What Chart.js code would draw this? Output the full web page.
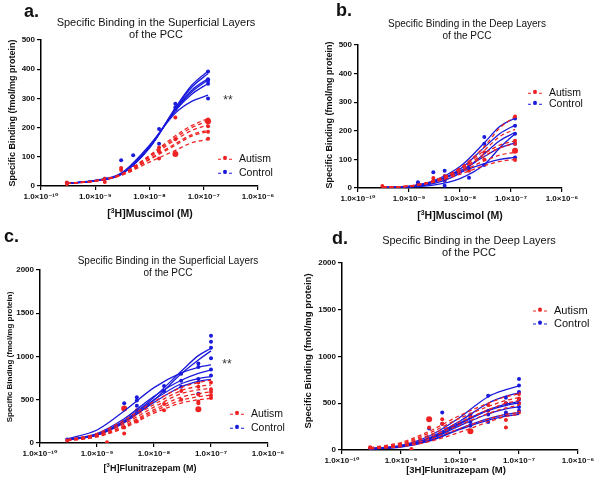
<!DOCTYPE html>
<html>
<head>
<meta charset="utf-8">
<script src="https://cdn.jsdelivr.net/npm/chart.js@4.4.1/dist/chart.umd.min.js"></script>
<style>
    html, body { margin: 0; padding: 0; background: #fff; }
    #page { position: relative; width: 600px; height: 483px; overflow: hidden;
        font-family: "Liberation Sans", Arial, sans-serif; color: #111; }
    canvas { position: absolute; }
    .t { position: absolute; white-space: nowrap; line-height: 1; transform: translate(-50%, -50%); z-index: 2; }
    .rot { transform: translate(-50%, -50%) rotate(-90deg); }
    .b { font-weight: bold; }
    .let { position: absolute; font-weight: bold; font-size: 18px; line-height: 1; z-index: 2; }
    .lg { position: absolute; white-space: nowrap; line-height: 1; z-index: 2; font-size: 10.5px; transform: translateY(-50%); }
    .sw { display: inline-block; position: relative; width: 14px; height: 0; border-top: 1.5px dashed currentColor;
        vertical-align: middle; margin-right: 7px; }
    .sw::after { content: ''; position: absolute; left: 5px; top: -3.5px; width: 4px; height: 4px;
        border-radius: 50%; background: currentColor; }
    .lg span.txt { color: #111; }
    sup { font-size: 65%; vertical-align: 0.55em; line-height: 0; }
</style>
</head>
<body>
<div id="page">
    <canvas id="chartA" width="300" height="205" style="left:0;top:0"></canvas>
    <canvas id="chartB" width="300" height="207" style="left:300px;top:0"></canvas>
    <canvas id="chartC" width="300" height="222" style="left:0;top:240px"></canvas>
    <canvas id="chartD" width="300" height="229" style="left:300px;top:240px"></canvas>

    <!-- panel letters -->
    <div class="let" style="left:24px;top:2px">a.</div>
    <div class="let" style="left:336px;top:1px">b.</div>
    <div class="let" style="left:4px;top:227px">c.</div>
    <div class="let" style="left:332px;top:229px">d.</div>

    <!-- titles -->
    <div class="t" style="left:156px;top:22px;font-size:11px">Specific Binding in the Superficial Layers</div>
    <div class="t" style="left:156px;top:34px;font-size:11px">of the PCC</div>
    <div class="t" style="left:467px;top:24px;font-size:10px">Specific Binding in the Deep Layers</div>
    <div class="t" style="left:467px;top:36px;font-size:10px">of the PCC</div>
    <div class="t" style="left:168px;top:261px;font-size:10px">Specific Binding in the Superficial Layers</div>
    <div class="t" style="left:168px;top:273px;font-size:10px">of the PCC</div>
    <div class="t" style="left:469px;top:240px;font-size:11px">Specific Binding in the Deep Layers</div>
    <div class="t" style="left:469px;top:252px;font-size:11px">of the PCC</div>

    <!-- y-axis titles -->
    <div class="t rot b" style="left:12px;top:113px;font-size:9px">Specific Binding (fmol/mg protein)</div>
    <div class="t rot b" style="left:329px;top:115px;font-size:9px">Specific Binding (fmol/mg protein)</div>
    <div class="t rot b" style="left:10px;top:357px;font-size:8px">Specific Binding (fmol/mg protein)</div>
    <div class="t rot b" style="left:308px;top:351px;font-size:9.5px">Specific Binding (fmol/mg protein)</div>

    <!-- x-axis titles -->
    <div class="t b" style="left:150px;top:213px;font-size:10.5px">[<sup>3</sup>H]Muscimol (M)</div>
    <div class="t b" style="left:460px;top:215px;font-size:10.5px">[<sup>3</sup>H]Muscimol (M)</div>
    <div class="t b" style="left:150px;top:468px;font-size:9px">[<sup>3</sup>H]Flunitrazepam (M)</div>
    <div class="t b" style="left:456px;top:470px;font-size:9.5px">[3H]Flunitrazepam (M)</div>

    <!-- significance -->
    <div class="t" style="left:228px;top:100px;font-size:12px;color:#333">**</div>
    <div class="t" style="left:227px;top:364px;font-size:12px;color:#333">**</div>

    <!-- legends -->
    <div class="lg" style="left:218px;top:158px;color:#ee2222"><span class="sw"></span><span class="txt">Autism</span></div>
    <div class="lg" style="left:218px;top:172px;color:#1a1adc"><span class="sw"></span><span class="txt">Control</span></div>
    <div class="lg" style="left:528px;top:92px;color:#ee2222"><span class="sw"></span><span class="txt">Autism</span></div>
    <div class="lg" style="left:528px;top:103px;color:#1a1adc"><span class="sw"></span><span class="txt">Control</span></div>
    <div class="lg" style="left:230px;top:413px;color:#ee2222"><span class="sw"></span><span class="txt">Autism</span></div>
    <div class="lg" style="left:230px;top:427px;color:#1a1adc"><span class="sw"></span><span class="txt">Control</span></div>
    <div class="lg" style="left:533px;top:310px;color:#ee2222;font-size:11px"><span class="sw"></span><span class="txt">Autism</span></div>
    <div class="lg" style="left:533px;top:323px;color:#1a1adc;font-size:11px"><span class="sw"></span><span class="txt">Control</span></div>
</div>

<script>
// ===== DỮ LIỆU =====
const tickExp = [-10, -9, -8, -7, -6];

// a. Muscimol - superficial layers
const aConc = [3e-10, 1e-9, 3e-9, 1e-8, 3e-8, 6e-8, 1.2e-7];
const aCtrl = [
    [9, 18, 40, 132, 268, 345, 394],
    [9, 18, 40, 130, 265, 338, 385],
    [9, 18, 41, 132, 262, 328, 368],
    [9, 18, 41, 134, 260, 322, 363],
    [9, 19, 42, 136, 258, 314, 351],
    [9, 19, 44, 140, 250, 290, 311]
];
const aAut = [
    [9, 18, 40, 105, 172, 207, 231],
    [9, 18, 40, 102, 165, 200, 223],
    [9, 18, 39, 98, 158, 190, 209],
    [9, 17, 38, 92, 145, 176, 191],
    [9, 17, 37, 90, 140, 171, 186],
    [8, 17, 36, 82, 122, 148, 160]
];
const aCtrlPts = [[3e-10, 10], [1.5e-9, 25], [3e-9, 88], [5e-9, 105], [1.5e-8, 195], [1.5e-8, 145],
    [3e-8, 282], [3e-8, 270], [3e-8, 262], [1.2e-7, 392], [1.2e-7, 366], [1.2e-7, 360], [1.2e-7, 350], [1.2e-7, 300]];
const aAutPts = [[3e-10, 12], [3e-10, 7], [1.5e-9, 14], [1.5e-9, 25], [3e-9, 55], [3e-9, 62], [5e-9, 72],
    [1.5e-8, 94], [1.5e-8, 118], [1.5e-8, 132], [3e-8, 160], [3e-8, 235],
    [1.2e-7, 228], [1.2e-7, 220], [1.2e-7, 205], [1.2e-7, 186], [1.2e-7, 162]];
const aAutBig = [[3e-8, 110], [1.2e-7, 222]];

// b. Muscimol - deep layers
const bConc = [3e-10, 1e-9, 3e-9, 1e-8, 3e-8, 6e-8, 1.2e-7];
const bCtrl = [
    [2, 6, 25, 75, 158, 215, 244],
    [2, 5, 20, 66, 142, 190, 220],
    [1, 4, 15, 52, 120, 165, 194],
    [2, 6, 22, 60, 110, 140, 158],
    [1, 3, 10, 33, 82, 140, 190],
    [2, 6, 22, 55, 85, 100, 107]
];
const bAut = [
    [3, 7, 25, 70, 145, 210, 250],
    [3, 7, 25, 68, 132, 180, 205],
    [3, 7, 24, 64, 120, 150, 165],
    [3, 7, 23, 60, 112, 140, 155],
    [3, 6, 22, 55, 95, 115, 125],
    [3, 6, 20, 48, 78, 93, 100]
];
const bCtrlPts = [[1.5e-9, 20], [1.5e-9, 12], [3e-9, 55], [3e-9, 22], [5e-9, 60], [5e-9, 25], [5e-9, 8],
    [1.5e-8, 70], [1.5e-8, 36], [3e-8, 178], [3e-8, 155], [3e-8, 80],
    [1.2e-7, 243], [1.2e-7, 218], [1.2e-7, 190], [1.2e-7, 155], [1.2e-7, 107]];
const bAutPts = [[3e-10, 7], [1.5e-9, 10], [3e-9, 35], [3e-9, 25], [5e-9, 42], [5e-9, 30],
    [1.5e-8, 60], [1.5e-8, 82], [3e-8, 125], [3e-8, 100],
    [1.2e-7, 250], [1.2e-7, 165], [1.2e-7, 155], [1.2e-7, 98]];
const bAutBig = [[1.2e-7, 130]];

// c. Flunitrazepam - superficial layers
const cConc = [3e-10, 1e-9, 3e-9, 1e-8, 3e-8, 6e-8, 1e-7];
const cCtrl = [
    [38, 100, 260, 530, 830, 1010, 1095],
    [35, 92, 235, 495, 800, 960, 1065],
    [48, 150, 370, 640, 810, 875, 902],
    [40, 110, 280, 540, 725, 805, 844],
    [36, 96, 250, 500, 685, 745, 767],
    [34, 90, 240, 470, 650, 712, 736]
];
const cAut = [
    [40, 110, 265, 480, 640, 700, 728],
    [35, 95, 240, 445, 605, 655, 670],
    [30, 85, 220, 415, 570, 615, 632],
    [30, 80, 200, 385, 530, 570, 593],
    [28, 75, 188, 365, 495, 535, 555],
    [25, 70, 175, 345, 462, 500, 517]
];
const cCtrlPts = [[3e-10, 40], [3e-9, 460], [3e-9, 400], [5e-9, 530], [5e-9, 490], [5e-9, 430],
    [1.5e-8, 660], [1.5e-8, 600], [3e-8, 800], [3e-8, 720], [3e-8, 650],
    [6e-8, 920], [6e-8, 880], [6e-8, 740], [6e-8, 570],
    [1e-7, 1240], [1e-7, 1170], [1e-7, 1100], [1e-7, 980], [1e-7, 850], [1e-7, 780]];
const cAutPts = [[3e-10, 30], [1.5e-9, 8], [3e-9, 180], [3e-9, 110], [5e-9, 380], [5e-9, 250],
    [1.5e-8, 450], [1.5e-8, 380], [3e-8, 500], [3e-8, 600],
    [6e-8, 700], [6e-8, 650], [6e-8, 560], [6e-8, 480], [6e-8, 460],
    [1e-7, 700], [1e-7, 620], [1e-7, 590], [1e-7, 550], [1e-7, 520]];
const cAutBig = [[3e-9, 400], [6e-8, 390]];

// d. Flunitrazepam - deep layers
const dConc = [3e-10, 1e-9, 3e-9, 1e-8, 3e-8, 6e-8, 1e-7];
const dCtrl = [
    [15, 50, 150, 350, 570, 645, 685],
    [14, 45, 130, 310, 500, 575, 610],
    [12, 40, 120, 290, 430, 490, 520],
    [12, 40, 115, 280, 420, 475, 505],
    [12, 35, 110, 260, 385, 440, 462],
    [10, 35, 100, 230, 335, 380, 400],
    [10, 30, 95, 220, 320, 362, 382]
];
const dAut = [
    [25, 80, 200, 370, 500, 570, 600],
    [22, 70, 180, 340, 465, 530, 560],
    [20, 60, 160, 300, 430, 500, 530],
    [18, 55, 140, 270, 390, 450, 480],
    [15, 45, 115, 230, 330, 380, 400],
    [12, 35, 90, 190, 300, 358, 380]
];
const dCtrlPts = [[3e-10, 20], [3e-9, 230], [5e-9, 400], [5e-9, 280], [1.5e-8, 380], [1.5e-8, 300], [1.5e-8, 260],
    [3e-8, 580], [3e-8, 380], [3e-8, 300], [6e-8, 560], [6e-8, 500], [6e-8, 400], [6e-8, 380],
    [1e-7, 760], [1e-7, 690], [1e-7, 620], [1e-7, 540], [1e-7, 500], [1e-7, 460], [1e-7, 420]];
const dAutPts = [[3e-10, 25], [3e-10, 30], [1.5e-9, 10], [3e-9, 240], [5e-9, 330], [5e-9, 280],
    [1.5e-8, 350], [3e-8, 480], [3e-8, 420], [6e-8, 240], [6e-8, 320], [6e-8, 500],
    [1e-7, 600], [1e-7, 550], [1e-7, 500], [1e-7, 400]];
const dAutBig = [[3e-9, 330], [1.5e-8, 200]];

(function () {
    'use strict';

    const RED = '#ee2222';
    const BLUE = '#1a1adc';
    const FONT = '"Liberation Sans", Arial, "DejaVu Sans", sans-serif';
    const SUP = { '-': '\u207B', '0': '\u2070', '1': '\u00B9', '2': '\u00B2', '3': '\u00B3',
        '4': '\u2074', '5': '\u2075', '6': '\u2076', '7': '\u2077', '8': '\u2078', '9': '\u2079' };

    // khung trục (chart area) tính theo toạ độ trang, canvas đặt ở left/top
    const panels = [
        { id: 'chartA', left: 0, top: 0, w: 300, h: 205, box: { l: 41, r: 258, t: 40, b: 186 },
            yMax: 500, yStep: 100, conc: aConc, ctrl: aCtrl, aut: aAut, ctrlPts: aCtrlPts, autPts: aAutPts, autBig: aAutBig },
        { id: 'chartB', left: 300, top: 0, w: 300, h: 207, box: { l: 358, r: 562, t: 45, b: 188 },
            yMax: 500, yStep: 100, conc: bConc, ctrl: bCtrl, aut: bAut, ctrlPts: bCtrlPts, autPts: bAutPts, autBig: bAutBig },
        { id: 'chartC', left: 0, top: 240, w: 300, h: 222, box: { l: 40, r: 268, t: 270, b: 443 },
            yMax: 2000, yStep: 500, conc: cConc, ctrl: cCtrl, aut: cAut, ctrlPts: cCtrlPts, autPts: cAutPts, autBig: cAutBig },
        { id: 'chartD', left: 300, top: 240, w: 300, h: 229, box: { l: 342, r: 578, t: 263, b: 450 },
            yMax: 2000, yStep: 500, conc: dConc, ctrl: dCtrl, aut: dAut, ctrlPts: dCtrlPts, autPts: dAutPts, autBig: dAutBig }
    ];

    function formatExp(value) {
        const e = String(Math.round(Math.log10(value)));
        return '1.0\u00D710' + e.split('').map(function (c) { return SUP[c]; }).join('');
    }

    function toXY(pairs) {
        return pairs.map(function (p) { return { x: p[0], y: p[1] }; });
    }

    function curveSet(conc, vals, color, dashed) {
        return {
            data: conc.map(function (x, i) { return { x: x, y: vals[i] }; }),
            showLine: true,
            borderColor: color,
            borderWidth: 1.3,
            borderDash: dashed ? [4, 3] : [],
            pointRadius: 0,
            cubicInterpolationMode: 'monotone',
            fill: false
        };
    }

    function pointSet(pairs, color, radius) {
        return {
            data: toXY(pairs),
            showLine: false,
            pointRadius: radius,
            pointBackgroundColor: color,
            pointBorderWidth: 0
        };
    }

    function axisStyle() {
        return {
            grid: { display: true, drawOnChartArea: false, drawTicks: true, tickLength: 4, color: '#000', lineWidth: 1.2 },
            border: { display: true, color: '#000', width: 1.5 }
        };
    }

    function buildPanel(p) {
        const yW = p.box.l - p.left;
        const xH = p.top + p.h - p.box.b;
        const padTop = p.box.t - p.top;
        const padRight = p.left + p.w - p.box.r;

        const datasets = [];
        p.aut.forEach(function (v) { datasets.push(curveSet(p.conc, v, RED, true)); });
        p.ctrl.forEach(function (v) { datasets.push(curveSet(p.conc, v, BLUE, false)); });
        datasets.push(pointSet(p.autPts, RED, 2));
        datasets.push(pointSet(p.autBig, RED, 3));
        datasets.push(pointSet(p.ctrlPts, BLUE, 2));

        const xAxis = Object.assign({
            type: 'logarithmic',
            min: 1e-10,
            max: 1e-6,
            afterBuildTicks: function (scale) {
                scale.ticks = tickExp.map(function (e) { return { value: Math.pow(10, e) }; });
            },
            afterFit: function (scale) { scale.height = xH; },
            ticks: {
                autoSkip: false, maxRotation: 0, padding: 2, color: '#111',
                font: { family: FONT, size: 8, weight: 'bold' },
                callback: function (value) { return formatExp(value); }
            }
        }, axisStyle());

        const yAxis = Object.assign({
            type: 'linear',
            min: 0,
            max: p.yMax,
            afterFit: function (scale) { scale.width = yW; },
            ticks: {
                stepSize: p.yStep, padding: 2, color: '#111',
                font: { family: FONT, size: 8, weight: 'bold' },
                callback: function (value) { return String(value); }
            }
        }, axisStyle());

        new Chart(document.getElementById(p.id).getContext('2d'), {
            type: 'scatter',
            data: { datasets: datasets },
            options: {
                responsive: false,
                animation: false,
                layout: { padding: { top: padTop, right: padRight, left: 0, bottom: 0 } },
                plugins: { legend: { display: false }, tooltip: { enabled: false } },
                scales: { x: xAxis, y: yAxis }
            }
        });
    }

    panels.forEach(buildPanel);
    console.log('[Binding] Charts drawn');
})();
</script>
</body>
</html>
